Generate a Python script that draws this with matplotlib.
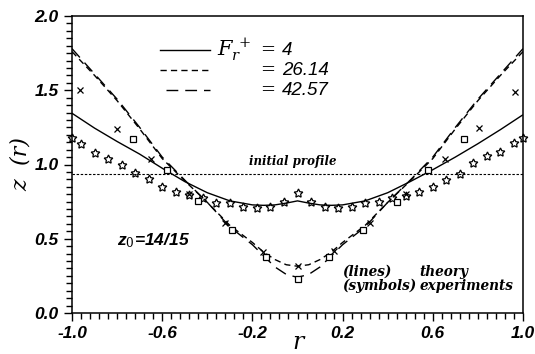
import matplotlib
matplotlib.use("Agg")
import matplotlib.pyplot as plt
from matplotlib.ticker import MultipleLocator, FormatStrFormatter

plt.rcParams["mathtext.fontset"] = "dejavuserif"

# ---------------- data ----------------
r_theory = [-1.0, -0.9, -0.8, -0.7, -0.6, -0.5, -0.4, -0.3, -0.2, -0.15, -0.1, -0.05, 0.0,
            0.05, 0.1, 0.15, 0.2, 0.3, 0.4, 0.5, 0.6, 0.7, 0.8, 0.9, 1.0]
z_F4 = [1.345, 1.245, 1.155, 1.07, 0.975, 0.885, 0.81, 0.755, 0.728, 0.725, 0.728, 0.74, 0.755,
        0.74, 0.728, 0.725, 0.728, 0.755, 0.81, 0.885, 0.965, 1.05, 1.14, 1.235, 1.335]
z_F26 = [1.76, 1.60, 1.43, 1.24, 1.04, 0.89, 0.745, 0.59, 0.475, 0.41, 0.36, 0.325, 0.315,
         0.325, 0.36, 0.41, 0.475, 0.59, 0.745, 0.89, 1.04, 1.24, 1.43, 1.60, 1.76]
z_F42 = [1.78, 1.61, 1.44, 1.25, 1.05, 0.895, 0.745, 0.58, 0.46, 0.385, 0.31, 0.26, 0.24,
         0.26, 0.31, 0.385, 0.46, 0.58, 0.745, 0.895, 1.05, 1.25, 1.44, 1.61, 1.78]

r_star = [-1.0, -0.96, -0.90, -0.84, -0.78, -0.72, -0.66, -0.60, -0.54, -0.48, -0.42, -0.36,
          -0.30, -0.24, -0.18, -0.12, -0.06, 0.0, 0.06, 0.12, 0.18, 0.24, 0.30, 0.36, 0.42,
          0.48, 0.54, 0.60, 0.66, 0.72, 0.78, 0.84, 0.90, 0.96, 1.0]
z_star = [1.18, 1.14, 1.08, 1.04, 1.00, 0.945, 0.905, 0.851, 0.817, 0.795, 0.772, 0.743,
          0.739, 0.712, 0.710, 0.716, 0.745, 0.810, 0.745, 0.712, 0.710, 0.716, 0.739, 0.745,
          0.772, 0.790, 0.817, 0.851, 0.896, 0.936, 1.008, 1.055, 1.087, 1.143, 1.177]

r_cross = [-0.965, -0.80, -0.65, -0.48, -0.32, -0.155, 0.0, 0.16, 0.32, 0.48, 0.655, 0.805, 0.965]
z_cross = [1.50, 1.24, 1.04, 0.80, 0.605, 0.41, 0.316, 0.42, 0.605, 0.80, 1.04, 1.245, 1.49]

r_box = [-0.73, -0.58, -0.44, -0.29, -0.14, 0.0, 0.14, 0.29, 0.44, 0.58, 0.74]
z_box = [1.17, 0.965, 0.755, 0.56, 0.375, 0.228, 0.375, 0.56, 0.75, 0.965, 1.17]

z_initial = 14 / 15
legend_values = ["4", "26.14", "42.57"]
xticks = [-1.0, -0.6, -0.2, 0.2, 0.6, 1.0]
yticks = [0.0, 0.5, 1.0, 1.5, 2.0]

# ---------------- figure ----------------
fig = plt.figure(figsize=(5.35, 3.54), dpi=100)
ax = fig.add_axes([72 / 535, 1 - 313 / 354, 451 / 535, 297 / 354])

ax.plot(r_theory, z_F4, color="black", lw=1.0, solid_capstyle="butt")
l26, = ax.plot(r_theory, z_F26, color="black", lw=1.0)
l26.set_dashes([4.5, 3.0])
l42, = ax.plot(r_theory, z_F42, color="black", lw=1.0)
l42.set_dashes([8.5, 5.0])

ax.axhline(z_initial, color="black", lw=0.8, dashes=[2.2, 1.5])

ax.plot(r_star, z_star, ls="none", marker=(5, 1, 0), markersize=6.5, mfc="none",
        mec="black", mew=0.9, clip_on=False)
ax.plot(r_cross, z_cross, ls="none", marker="x", markersize=4.5, mec="black", mew=0.9)
ax.plot(r_box, z_box, ls="none", marker="s", markersize=4.8, mfc="white", mec="black", mew=0.9)

ax.set_xlim(-1.0, 1.0)
ax.set_ylim(0.0, 2.0)
ax.set_xticks(xticks)
ax.set_yticks(yticks)
ax.xaxis.set_minor_locator(MultipleLocator(0.04))
ax.yaxis.set_minor_locator(MultipleLocator(0.05))
ax.xaxis.set_major_formatter(FormatStrFormatter("%.1f"))
ax.yaxis.set_major_formatter(FormatStrFormatter("%.1f"))
ax.tick_params(which="both", direction="out", top=False, right=False, width=1.0)
ax.tick_params(which="major", length=6)
ax.tick_params(which="minor", length=4)
for lab in ax.get_xticklabels() + ax.get_yticklabels():
    lab.set_fontfamily("Liberation Sans")
    lab.set_fontweight("bold")
    lab.set_fontstyle("italic")
    lab.set_fontsize(12.5)
for s in ax.spines.values():
    s.set_linewidth(1.1)

serif = "DejaVu Serif"
ax.set_xlabel("r", fontsize=17, fontstyle="italic", family=serif)
ax.xaxis.set_label_coords(0.5, -0.06)
ax.set_ylabel("z  (r)", fontsize=16, fontstyle="italic", family=serif)
ax.yaxis.set_label_coords(-0.09, 0.5)

# legend-like block (drawn manually like the original)
ys = [1.77, 1.635, 1.50]
x0, x1 = -0.61, -0.39
ax.plot([x0, x1], [ys[0], ys[0]], color="black", lw=1.0)
a, = ax.plot([x0, x1], [ys[1], ys[1]], color="black", lw=1.0)
a.set_dashes([4.5, 3.0])
b, = ax.plot([x0 + 0.025, x1], [ys[2], ys[2]], color="black", lw=1.0)
b.set_dashes([8.5, 5.0])
ax.text(-0.355, ys[0], r"$F_r^{\,+}$", fontsize=15, va="center", ha="left")
for y, v in zip(ys, legend_values):
    ax.text(-0.165, y, "=", fontsize=13, va="center", ha="left", family=serif)
    ax.text(-0.07, y, v, fontsize=13.5, va="center", ha="left", family="Liberation Sans",
            fontstyle="italic")

ax.text(-0.02, 1.02, "initial profile", fontsize=8.5, fontstyle="italic", fontweight="bold",
        family=serif, ha="center", va="center")
ax.text(-0.64, 0.49, r"z$_0$=14/15", fontsize=12.5, fontstyle="italic", fontweight="bold",
        family="Liberation Sans", ha="center", va="center")
ax.text(0.2, 0.275, "(lines)", fontsize=9.8, fontstyle="italic", fontweight="bold", family=serif,
        ha="left", va="center")
ax.text(0.54, 0.275, "theory", fontsize=9.8, fontstyle="italic", fontweight="bold", family=serif,
        ha="left", va="center")
ax.text(0.2, 0.18, "(symbols)", fontsize=9.8, fontstyle="italic", fontweight="bold", family=serif,
        ha="left", va="center")
ax.text(0.54, 0.18, "experiments", fontsize=9.8, fontstyle="italic", fontweight="bold",
        family=serif, ha="left", va="center")

fig.savefig("out.png", dpi=100)
